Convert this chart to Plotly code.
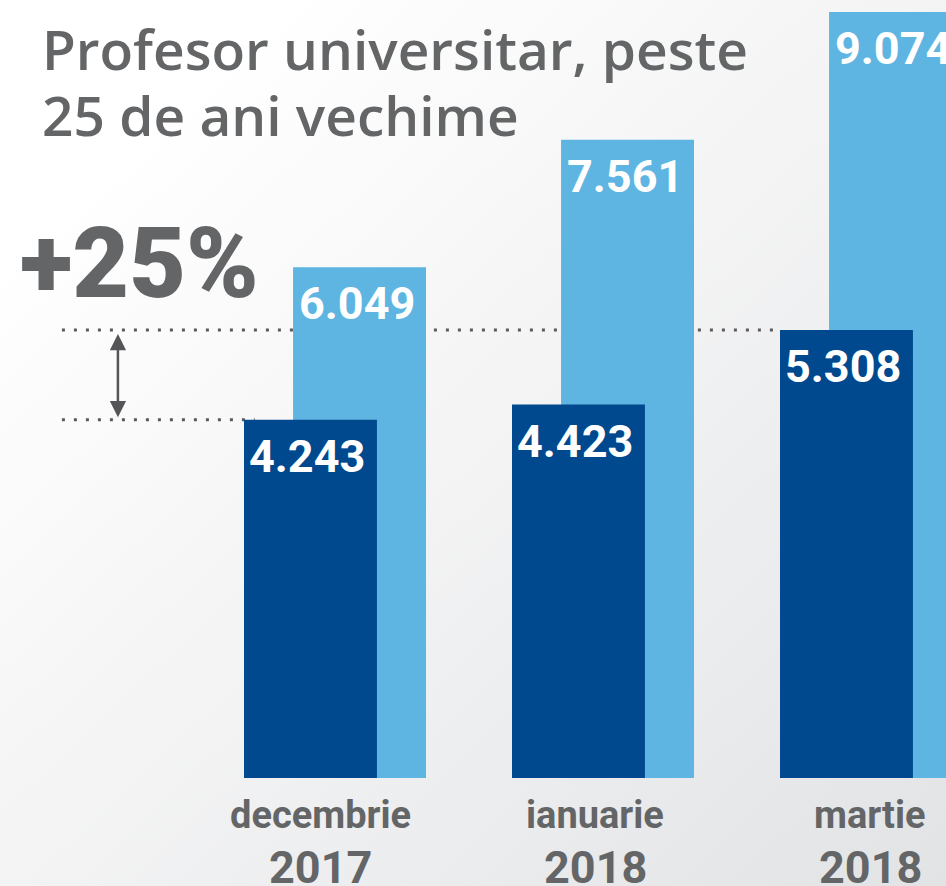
import plotly.graph_objects as go

# Salariu profesor universitar, peste 25 de ani vechime (lei)
months = ["decembrie", "ianuarie", "martie"]
years = ["2017", "2018", "2018"]
net_vals = [4243, 4423, 5308]     # dark blue
gross_vals = [6049, 7561, 9074]   # light blue
growth_label = "+25%"
title_lines = ["Profesor universitar, peste", "25 de ani vechime"]

DARK = "#00498f"
LIGHT = "#5eb5e1"
GREY = "#646567"

xs = list(range(len(months)))
bar_w = 0.496
shift = 0.183

bg_svg = (
    "data:image/svg+xml;utf8,"
    "<svg xmlns='http://www.w3.org/2000/svg' width='946' height='886'>"
    "<defs><linearGradient id='g' x1='0' y1='0' x2='1' y2='1'>"
    "<stop offset='0.15' stop-color='%23ffffff'/>"
    "<stop offset='1' stop-color='%23e2e3e5'/>"
    "</linearGradient></defs>"
    "<rect width='946' height='886' fill='url(%23g)'/></svg>"
)


def fmt(v):
    return f"{v:,}".replace(",", ".")


fig = go.Figure()

# light bars behind, dark bars in front
for vals, color, dx in [(gross_vals, LIGHT, shift / 2), (net_vals, DARK, -shift / 2)]:
    fig.add_trace(go.Bar(
        x=xs, y=vals, width=bar_w, offset=dx - bar_w / 2,
        marker=dict(color=color, line=dict(width=0)),
        hoverinfo="skip",
    ))
    for x, v in zip(xs, vals):
        fig.add_annotation(text=fmt(v), x=x + dx, y=v, xref="x", yref="y",
                           yanchor="top", yshift=-8, xshift=-3, showarrow=False,
                           font=dict(family="Roboto", size=45, color="white", weight="bold"))

# dotted guide lines
dot = dict(color="#5a5a5c", width=3, dash="3px,9px")
fig.add_shape(type="line", xref="x", x0=-1.019, yref="y", y0=net_vals[2],
              x1=2 - shift / 2 - bar_w / 2, y1=net_vals[2], line=dot, layer="below")
fig.add_shape(type="line", xref="x", x0=-1.019, yref="y", y0=net_vals[0],
              x1=0 - shift / 2 - bar_w / 2 + 0.04, y1=net_vals[0], line=dot, layer="below")

fig.add_annotation(x=-0.81, y=net_vals[0] + 30, ax=-0.81, ay=net_vals[2] - 30,
                   xref="x", yref="y", axref="x", ayref="y", text="",
                   showarrow=True, arrowhead=2, arrowside="end+start",
                   arrowsize=1.3, arrowwidth=2.5, arrowcolor="#555557")

fig.add_annotation(text=growth_label, xref="paper", yref="paper",
                   x=18 / 946, y=1 - 263 / 886, xanchor="left", yanchor="middle",
                   showarrow=False,
                   font=dict(family="Roboto", size=98, color=GREY, weight=900))

for i, line in enumerate(title_lines):
    fig.add_annotation(text=line, xref="paper", yref="paper",
                       x=40 / 946, y=1 - (49 + 66 * i) / 886,
                       xanchor="left", yanchor="middle", showarrow=False,
                       font=dict(family="Open Sans", size=55, color=GREY, weight=600))

for i, (x, m, yr) in enumerate(zip(xs, months, years)):
    fig.add_annotation(text=m, x=x, y=0, xref="x", yref="y",
                       xshift=-15 + 7 * i, yshift=-37, yanchor="middle", showarrow=False,
                       font=dict(family="Roboto", size=38, color=GREY, weight="bold"))
    fig.add_annotation(text=yr, x=x, y=0, xref="x", yref="y",
                       xshift=-15 + 7 * i, yshift=-89, yanchor="middle", showarrow=False,
                       font=dict(family="Roboto", size=45, color=GREY, weight="bold"))

px_per = 0.08442
fig.update_layout(
    width=946, height=886,
    margin=dict(l=0, r=0, t=0, b=0),
    barmode="overlay",
    showlegend=False,
    paper_bgcolor="#f2f2f3", plot_bgcolor="rgba(0,0,0,0)",
    images=[dict(source=bg_svg, xref="paper", yref="paper", x=0, y=1,
                 sizex=1, sizey=1, sizing="stretch", layer="below",
                 xanchor="left", yanchor="top")],
    xaxis=dict(range=[-335 / 268, -335 / 268 + 946 / 268], visible=False, fixedrange=True),
    yaxis=dict(range=[-108 / px_per, 778 / px_per], visible=False, fixedrange=True),
)

fig.write_html("out.html", config={"displayModeBar": False},
               post_script="document.body.style.margin='0';document.body.style.overflow='hidden';")
